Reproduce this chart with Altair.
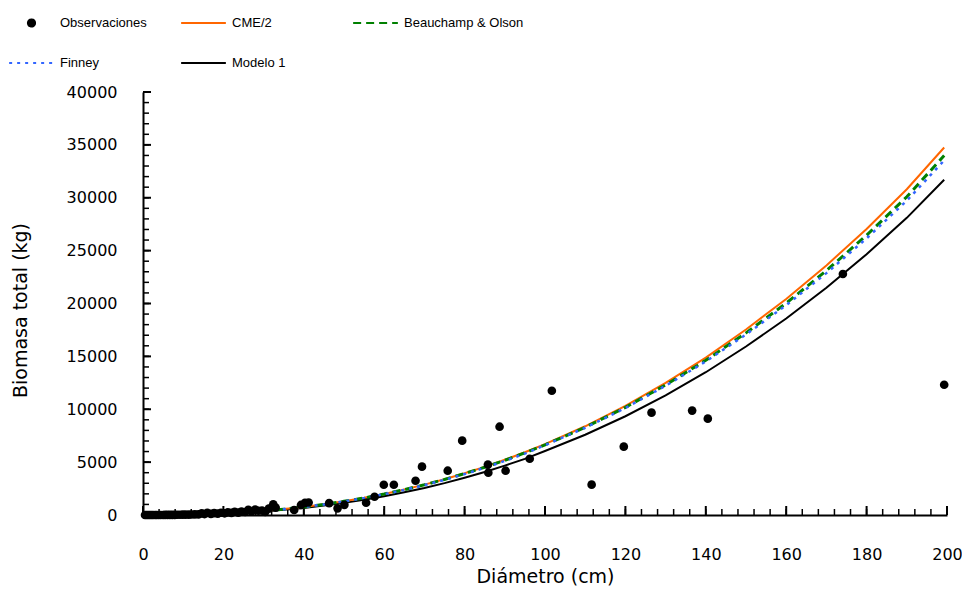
import altair as alt
import pandas as pd

# ---- data ----
obs_d = [0.5, 0.9, 1.3, 1.7, 2.1, 2.5, 3.0, 3.4, 3.9, 4.4, 5.0, 5.5, 6.1, 6.7, 7.3, 7.9,
         8.5, 9.2, 9.9, 10.6, 11.4, 12.1, 12.9, 13.8, 14.6, 15.3, 16.0, 16.9, 17.7, 18.6,
         19.4, 20.3, 21.1, 22.0, 22.8, 23.7, 24.5, 25.4, 26.2, 27.0, 27.9, 28.7, 29.6,
         30.4, 31.3, 32.4, 33.0, 37.6, 39.3, 40.3, 41.2, 46.3, 48.4, 50.1, 55.5, 57.6,
         59.9, 62.4, 67.8, 69.4, 75.8, 79.4, 85.8, 85.9, 88.7, 90.2, 96.2, 101.7, 111.6,
         119.6, 126.5, 136.6, 140.5, 174.1, 199.3]
obs_b = [0.1, 0.2, 0.3, 0.5, 0.8, 1, 1.5, 2, 2.5, 3.5, 4, 6, 8, 10, 12, 15,
         20, 22, 28, 30, 40, 45, 55, 60, 150, 90, 200, 110, 180, 130,
         210, 160, 250, 200, 290, 230, 320, 280, 500, 330, 520, 400, 420,
         300, 600, 1010, 700, 470, 950, 1150, 1180, 1120, 630, 960, 1160, 1730,
         2860, 2860, 3240, 4570, 4190, 7030, 4760, 4000, 8350, 4190, 5320, 11750, 2870,
         6460, 9680, 9870, 9110, 22790, 12320]

line_d = [1, 5, 10, 15, 20, 25, 30, 35, 40, 45, 50, 55, 60, 65, 70, 75, 80, 85, 90, 95,
          100, 110, 120, 130, 140, 150, 160, 170, 180, 190, 199.3]
cme = [0.1, 5, 29, 75, 148, 250, 386, 556, 763, 1009, 1295, 1622, 1994, 2412, 2873, 3385,
       3946, 4555, 5222, 5936, 6700, 8390, 10320, 12490, 14880, 17540, 20430, 23600, 27050,
       30800, 34750]
bo = [0.1, 5, 29, 75, 148, 250, 386, 556, 763, 1007, 1291, 1616, 1985, 2399, 2855, 3361,
      3915, 4516, 5174, 5878, 6633, 8290, 10180, 12300, 14630, 17220, 20030, 23110, 26460,
      30090, 33990]
finney = [0.1, 5, 29, 75, 148, 250, 385, 554, 759, 1002, 1283, 1604, 1969, 2378, 2828, 3327,
          3873, 4465, 5112, 5806, 6600, 8250, 10120, 12220, 14520, 17070, 19840, 22870, 26160,
          29720, 33530]
modelo1 = [0.1, 4.8, 24.6, 65, 129, 219, 339, 490, 673, 892, 1146, 1437, 1769, 2143, 2556, 3015,
           3519, 4068, 4667, 5312, 6050, 7590, 9340, 11320, 13500, 15930, 18580, 21490, 24660,
           28100, 31700]

series = ["Observaciones", "CME/2", "Beauchamp & Olson", "Finney", "Modelo 1"]
colors = ["#000000", "#FF6600", "#008000", "#3366FF", "#000000"]

x_major = [0, 20, 40, 60, 80, 100, 120, 140, 160, 180, 200]
x_minor = list(range(0, 201, 4))
y_major = [0, 5000, 10000, 15000, 20000, 25000, 30000, 35000, 40000]
y_minor = list(range(0, 40001, 1000))

W, H = 804, 423
FONT = "DejaVu Sans"
LEGEND_FONT = "Liberation Sans"

obs_df = pd.DataFrame({"D": obs_d, "B": obs_b, "serie": "Observaciones"})

xs = alt.Scale(domain=[0, 200], nice=False, zero=False)
ys = alt.Scale(domain=[0, 40000], nice=False)

x_axis = alt.Axis(title="Diámetro (cm)", values=x_major, format="d", ticks=False, grid=False,
                  labelPadding=31, labelFlush=False, labelOverlap=False,
                  titleY=67, titleBaseline="alphabetic")
y_axis = alt.Axis(title="Biomasa total (kg)", values=y_major, format="d", ticks=False, grid=False,
                  labelPadding=26, labelOverlap=False,
                  titleX=-123, titleY=218, titleBaseline="middle", titleAngle=-90)

IS_OBS = "datum.value === 'Observaciones'"
DOT = "M-0.16,0A0.16,0.16,0,1,1,0.16,0A0.16,0.16,0,1,1,-0.16,0Z"
legend = alt.Legend(
    title=None, orient="none", legendX=-135, legendY=-88, direction="horizontal", columns=3,
    labelFont=LEGEND_FONT, labelFontSize=13, labelColor="black",
    columnPadding=0, rowPadding=2, clipHeight=38, gridAlign="all", labelOffset=5,
    symbolSize=2000, symbolStrokeWidth=2,
    symbolType=alt.ExprRef(expr=f"{IS_OBS} ? '{DOT}' : 'stroke'"),
    symbolFillColor=alt.ExprRef(expr=f"{IS_OBS} ? '#000000' : 'transparent'"),
    symbolStrokeColor=alt.ExprRef(expr=f"{IS_OBS} ? 'transparent' : scale('color', datum.value)"),
    symbolDash=alt.ExprRef(expr="datum.value === 'Beauchamp & Olson' ? [8, 5] : (datum.value === 'Finney' ? [3, 5] : [1, 0])"),
    symbolOpacity=1,
)
color = alt.Color("serie:N", scale=alt.Scale(domain=series, range=colors), legend=legend)

layers = []
# axis ticks pointing inward
layers.append(alt.Chart(pd.DataFrame({"v": x_minor})).mark_rule(color="black", strokeWidth=1.5).encode(
    x=alt.X("v:Q", scale=xs, axis=x_axis), y=alt.value(H), y2=alt.value(H - 6)))
layers.append(alt.Chart(pd.DataFrame({"v": x_major})).mark_rule(color="black", strokeWidth=2).encode(
    x=alt.X("v:Q", scale=xs, axis=x_axis), y=alt.value(H), y2=alt.value(H - 9)))
layers.append(alt.Chart(pd.DataFrame({"v": y_minor})).mark_rule(color="black", strokeWidth=1.5).encode(
    y=alt.Y("v:Q", scale=ys, axis=y_axis), x=alt.value(0), x2=alt.value(6)))
layers.append(alt.Chart(pd.DataFrame({"v": y_major})).mark_rule(color="black", strokeWidth=2).encode(
    y=alt.Y("v:Q", scale=ys, axis=y_axis), x=alt.value(0), x2=alt.value(8)))

line_specs = [
    ("Modelo 1", modelo1, 2, None),
    ("CME/2", cme, 2, None),
    ("Beauchamp & Olson", bo, 3, [8, 5]),
    ("Finney", finney, 2.5, [3, 5]),
]
for name, vals, sw, dash in line_specs:
    df = pd.DataFrame({"D": line_d, "B": vals, "serie": name})
    kw = {"strokeWidth": sw}
    if dash:
        kw["strokeDash"] = dash
    layers.append(alt.Chart(df).mark_line(**kw).encode(
        x=alt.X("D:Q", scale=xs, axis=x_axis),
        y=alt.Y("B:Q", scale=ys, axis=y_axis),
        color=color,
    ))

layers.append(alt.Chart(obs_df).mark_point(filled=True, size=75, opacity=1, shape="circle").encode(
    x=alt.X("D:Q", scale=xs, axis=x_axis),
    y=alt.Y("B:Q", scale=ys, axis=y_axis),
    color=color,
))

chart = alt.layer(*layers).properties(
    width=W, height=H,
    autosize=alt.AutoSizeParams(type="none"),
    padding={"left": 135, "top": 84, "right": 15, "bottom": 73},
    background="white",
).configure_view(stroke=None).configure_axis(
    domainColor="black", domainWidth=2,
    labelFont=FONT, labelFontSize=16, labelColor="black",
    titleFont=FONT, titleFontSize=19, titleFontWeight="normal", titleColor="black",
)

chart.save("out.html", embed_options={"renderer": "svg", "actions": False})
